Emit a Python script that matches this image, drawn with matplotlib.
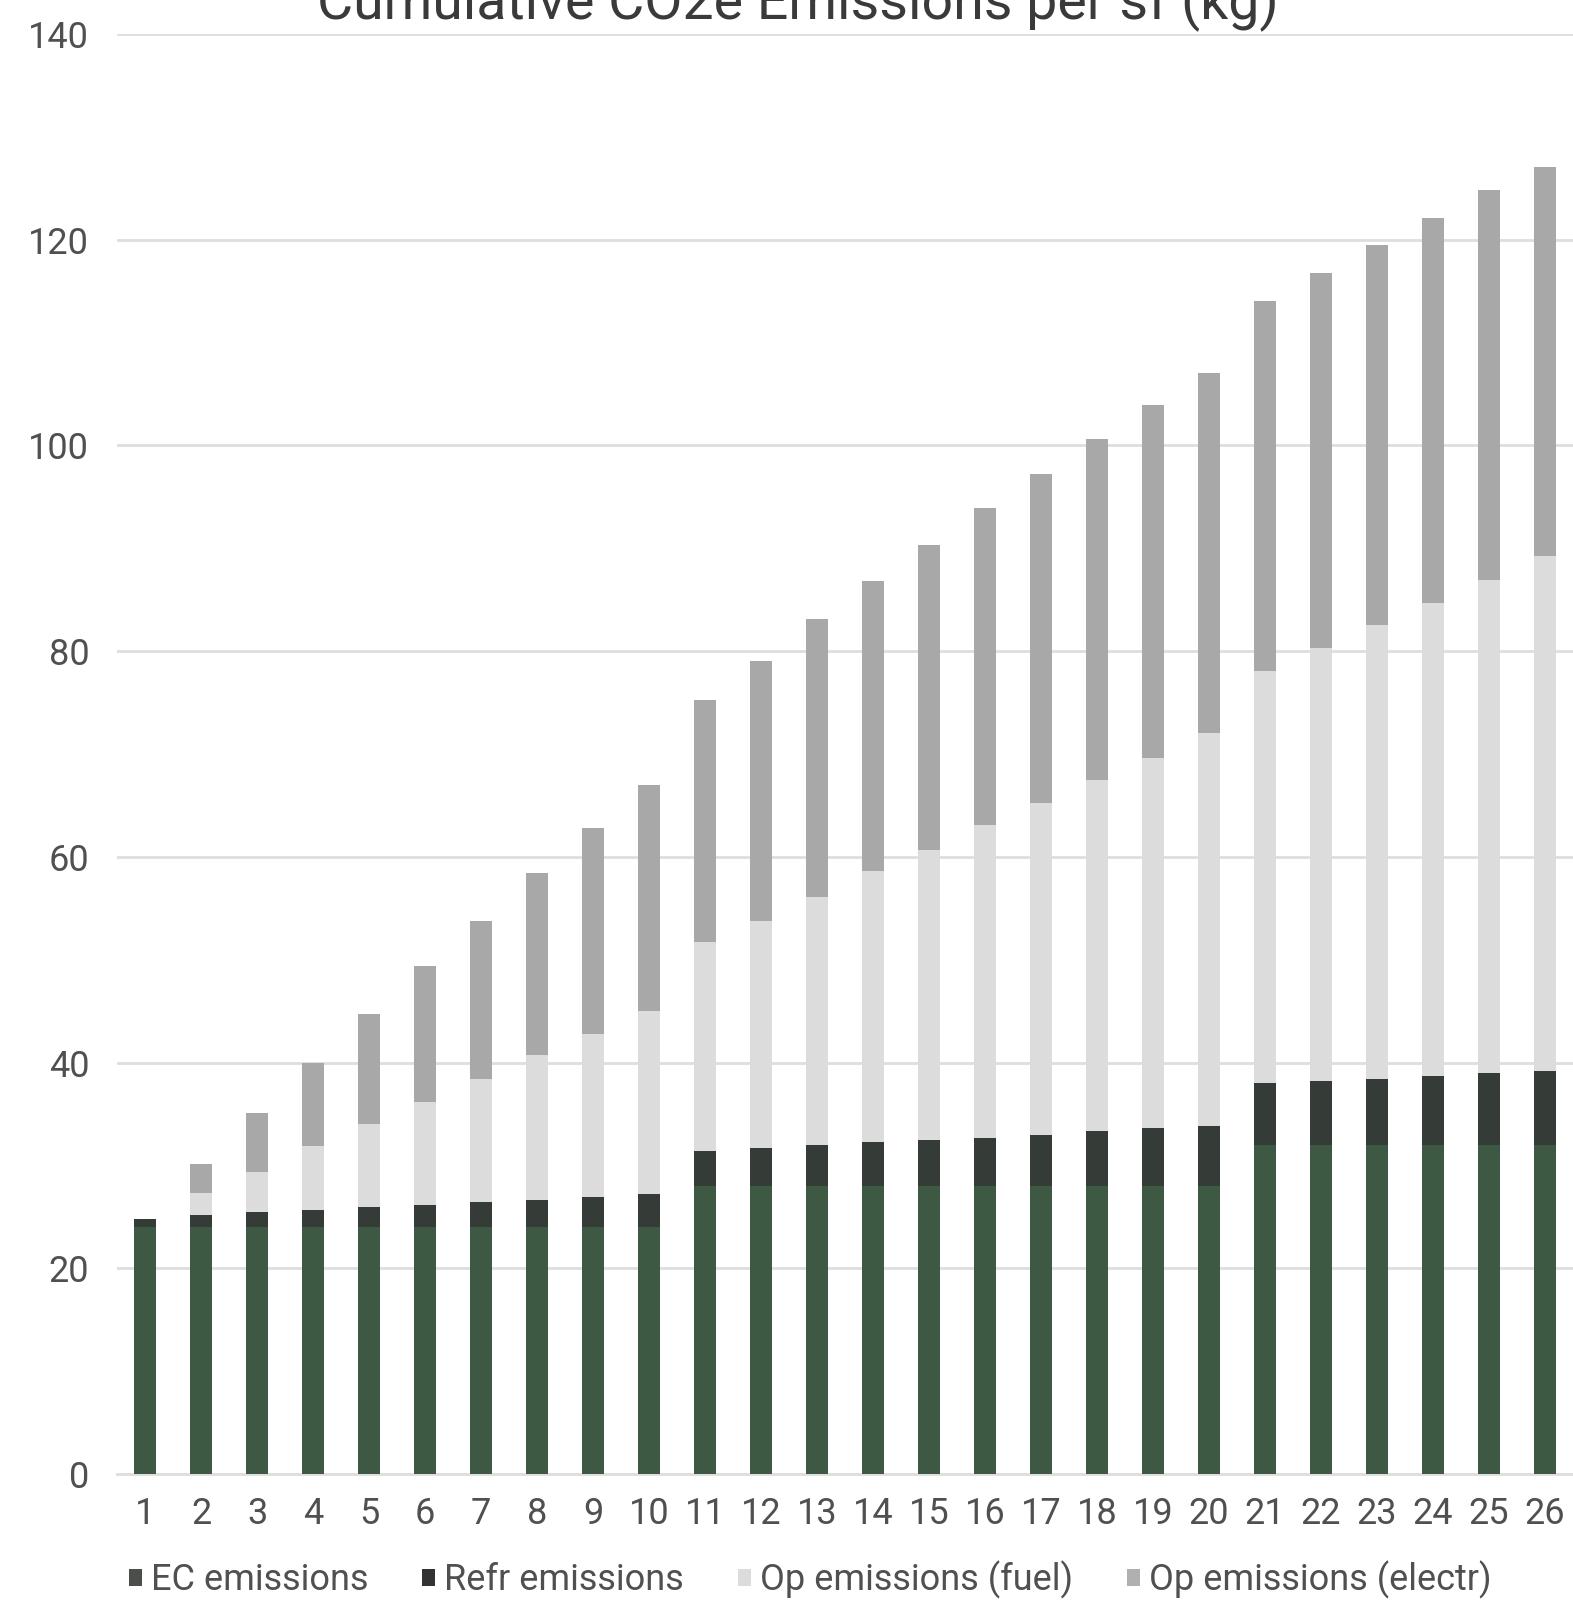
import matplotlib
matplotlib.use("Agg")
import matplotlib.pyplot as plt
from matplotlib.patches import Patch

# Years of building life
years = [str(i) for i in range(1, 27)]

# Cumulative emissions per sf (kg), stacked components
ec_emissions = [24.0, 24.0, 24.0, 24.0, 24.0, 24.0, 24.0, 24.0, 24.0, 24.0,
                28.0, 28.0, 28.0, 28.0, 28.0, 28.0, 28.0, 28.0, 28.0, 28.0,
                32.0, 32.0, 32.0, 32.0, 32.0, 32.0]
refr_emissions = [0.8, 1.2, 1.5, 1.7, 2.0, 2.2, 2.4, 2.6, 2.9, 3.2,
                  3.4, 3.7, 4.0, 4.3, 4.5, 4.7, 5.0, 5.3, 5.6, 5.8,
                  6.0, 6.2, 6.4, 6.7, 7.0, 7.2]
op_fuel = [0.0, 2.1, 3.9, 6.2, 8.0, 10.0, 12.0, 14.1, 15.9, 17.8,
           20.3, 22.1, 24.1, 26.3, 28.2, 30.4, 32.2, 34.2, 36.0, 38.2,
           40.1, 42.1, 44.1, 46.0, 47.9, 50.0]
op_electr = [0.0, 2.8, 5.7, 8.1, 10.7, 13.2, 15.4, 17.7, 20.0, 22.0,
             23.5, 25.2, 27.0, 28.2, 29.6, 30.8, 32.0, 33.1, 34.3, 35.0,
             35.9, 36.5, 37.0, 37.4, 37.9, 37.9]

series_names = ["EC emissions", "Refr emissions", "Op emissions (fuel)", "Op emissions (electr)"]
series_colors = ["#3d5843", "#353b37", "#dcdcdc", "#a8a8a8"]
legend_colors = ["#4a4f4b", "#333333", "#dcdcdc", "#b0b0b0"]
y_ticks = [0, 20, 40, 60, 80, 100, 120, 140]

family = ["Roboto", "DejaVu Sans"]
text_color = "#505050"

fig = plt.figure(figsize=(15.73, 16.02), dpi=100)
ax = fig.add_axes([0.0744, 0.0799, 0.9256, 0.8989])

x = list(range(1, len(years) + 1))
bottom = [0.0] * len(years)
for vals, color in zip([ec_emissions, refr_emissions, op_fuel, op_electr], series_colors):
    ax.bar(x, vals, width=0.38, bottom=bottom, color=color, linewidth=0, zorder=3)
    bottom = [b + v for b, v in zip(bottom, vals)]

ax.set_xlim(0.5, 26.5)
ax.set_ylim(0, 140)
ax.set_yticks(y_ticks)
ax.set_yticklabels([str(t) for t in y_ticks], family=family, fontsize=26, color=text_color)
ax.set_xticks(x)
ax.set_xticklabels(years, family=family, fontsize=26, color=text_color)
ax.tick_params(axis="y", length=0, pad=20)
ax.tick_params(axis="x", length=0, pad=16)
ax.grid(axis="y", color="#dedede", linewidth=2, zorder=0)
for s in ["top", "right", "left"]:
    ax.spines[s].set_visible(False)
ax.spines["bottom"].set_color("#dedede")
ax.spines["bottom"].set_linewidth(2)

fig.text(0.507, 0.988, "Cumulative CO2e Emissions per sf (kg)", ha="center", va="baseline",
         family=family, fontsize=40, color="#3a3a3a")

handles = [Patch(facecolor=c, edgecolor="none") for c in legend_colors]
fig.legend(handles, series_names, loc="center", bbox_to_anchor=(0.515, 0.014), ncol=4,
           frameon=False, prop={"family": family, "size": 26}, labelcolor=text_color,
           handlelength=0.35, handleheight=0.35, handletextpad=0.25, columnspacing=1.5)

fig.savefig("out.png", dpi=100, facecolor="white")
